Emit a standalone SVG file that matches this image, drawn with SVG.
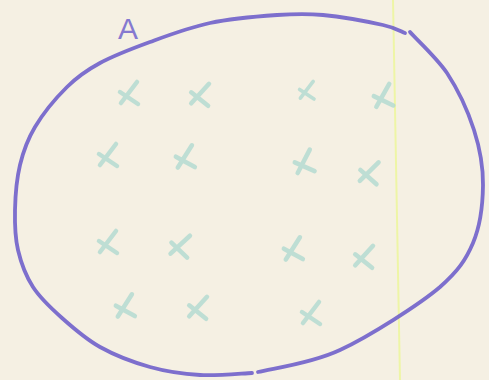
<svg xmlns="http://www.w3.org/2000/svg" width="489" height="380" viewBox="0 0 489 380">
<style>
.ring{fill:none;stroke:#6c5cc9;stroke-width:3.8;stroke-linecap:round;stroke-linejoin:round;opacity:0.88}
.mk{fill:none;stroke:#b0d9d0;stroke-width:4.5;stroke-linecap:round;opacity:0.8}
.lbl{font-family:"Liberation Sans",Arial,sans-serif;font-size:30px;fill:#8579d0}
</style>
<defs>
<path id="x" d="M9,-12 L-7,9 M-8,-2 L10,10"/>
</defs>
<rect width="489" height="380" fill="#f5f0e3"/>
<line x1="393" y1="0" x2="400" y2="380" stroke="#eef5a6" stroke-width="2"/>
<g id="set-A">
<path class="ring" d="M410,32 C416,39 436,57 447,73 C457.7,89.3 468,111.3 474,130 C480,148.7 483.2,166.2 483,185 C482.8,203.8 480.2,226 473,243 C465.8,260 458,271 440,287 C420,304 370.3,335.8 340,350 C309.7,364.2 271.7,368.3 258,372"/>
<path class="ring" d="M252,373 C243.3,373.3 217,376 200,375 C183,374 166.7,371.7 150,367 C133.3,362.3 114.7,355.2 100,347 C85.3,338.8 73.2,328 62,318 C50.8,308 40.3,298.3 33,287 C25.7,275.7 21,262.8 18,250 C15,237.2 14.7,224.2 15,210 C15.3,195.8 16.7,178.8 20,165 C23.3,151.2 27.2,140 35,127 C42.8,114 56.2,97.7 67,87 C77.8,76.3 86.2,70.5 100,63 C113.8,55.5 131.7,48.7 150,42 C168.3,35.3 188.8,27.5 210,23 C231.2,18.5 258.2,16.3 277,15 C295.8,13.7 305.3,13.3 323,15 C340.7,16.7 369.3,22 383,25 C396.7,28 401.3,31.7 405,33"/>
</g>
<g id="label-A"><text class="lbl" x="128" y="39" text-anchor="middle">A</text></g>
<g id="elements">
<use href="#x" class="mk" transform="translate(128,94)"/>
<use href="#x" class="mk" transform="translate(199,95) rotate(5)"/>
<use href="#x" class="mk" transform="translate(306,91) scale(0.8)"/>
<use href="#x" class="mk" transform="translate(382,97) rotate(-8)"/>
<use href="#x" class="mk" transform="translate(107,156)"/>
<use href="#x" class="mk" transform="translate(184,158) rotate(-5)"/>
<use href="#x" class="mk" transform="translate(303,163) rotate(-10)"/>
<use href="#x" class="mk" transform="translate(368,173) rotate(8)"/>
<use href="#x" class="mk" transform="translate(107,243)"/>
<use href="#x" class="mk" transform="translate(179,246) rotate(10)"/>
<use href="#x" class="mk" transform="translate(292,250) rotate(-5)"/>
<use href="#x" class="mk" transform="translate(363,257) rotate(5)"/>
<use href="#x" class="mk" transform="translate(124,307) rotate(-5)"/>
<use href="#x" class="mk" transform="translate(197,308) rotate(5)"/>
<use href="#x" class="mk" transform="translate(310,314)"/>
</g>
</svg>
